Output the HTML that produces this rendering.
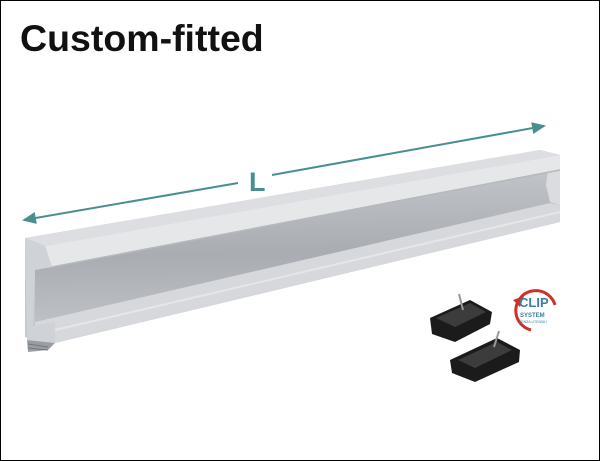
<!DOCTYPE html>
<html><head><style>
html,body{margin:0;padding:0;background:#fff;}
#c{position:relative;width:598px;height:459px;border:1px solid #000;overflow:hidden;background:#fff;}
h1{position:absolute;left:19px;top:16px;margin:0;font:bold 37.5px "Liberation Sans",sans-serif;color:#111;}
svg{position:absolute;left:0;top:0;}
</style></head><body><div id="c">
<h1>Custom-fitted</h1>
<svg width="598" height="459" viewBox="1 1 598 459">
<defs>
<linearGradient id="ch" x1="0" y1="0" x2="0.05" y2="1">
<stop offset="0" stop-color="#c3c6ca"/><stop offset="0.55" stop-color="#a9adb2"/><stop offset="1" stop-color="#bfc2c6"/>
</linearGradient>
<marker id="ah" markerWidth="8" markerHeight="8" refX="6" refY="4" orient="auto"><path d="M0,1 L7,4 L0,7 Z" fill="#4a8f8f"/></marker>
</defs>
<line x1="238" y1="183" x2="24" y2="220" stroke="#4a8f8f" stroke-width="2" marker-end="url(#ah)"/>
<line x1="272" y1="175" x2="544" y2="126" stroke="#4a8f8f" stroke-width="2" marker-end="url(#ah)"/>
<text x="249" y="191" font-family="Liberation Sans,sans-serif" font-weight="bold" font-size="27" fill="#4a8f8f">L</text>
<polygon points="25,238 540,150 560,155 560,222 55,343 25,337" fill="#c5c8cc"/>
<polygon points="35,268 560,170 560,210 35,328" fill="url(#ch)"/>
<polygon points="548,170 560,168 560,205 550,202 546,185" fill="#dadcdf"/>
<polygon points="35,322 550,203 560,205 560,222 55,343 35,338" fill="#d6d8db"/>
<line x1="55" y1="330" x2="560" y2="212" stroke="#e4e6e8" stroke-width="2"/>
<polygon points="25,238 540,150 560,155 45,246" fill="#dcdee1"/>
<polygon points="45,246 560,155 560,170 52,267" fill="#e5e7e9"/>
<line x1="52" y1="267" x2="560" y2="170" stroke="#b5b8bc" stroke-width="1.5"/>
<polygon points="25,238 45,246 52,267 35,270 33,326 55,322 55,343 27,340" fill="#cfd2d6"/>
<polygon points="27,340 55,343 48,350 28,352" fill="#9a9ea3"/>
<path d="M28,344 l20,3 M28,348 l20,2" stroke="#777" stroke-width="1"/>
<g fill="#1b1b1b">
<polygon points="430,318 470,300 492,312 490,324 455,342 432,334"/>
<polygon points="450,360 497,338 520,350 519,362 475,382 452,373"/>
</g>
<g fill="#3c3c3c">
<polygon points="436,318 470,303 486,312 455,327"/>
<polygon points="458,360 497,342 512,350 475,368"/>
</g>
<g stroke="#999" stroke-width="2" fill="none">
<line x1="463" y1="310" x2="459" y2="294"/><line x1="494" y1="347" x2="499" y2="331"/>
</g>
<path d="M555,305 A20,20 0 1,0 531,330" stroke="#d0302a" stroke-width="3" fill="none"/>
<polygon points="513,300 524,296 520,307" fill="#d0302a"/>
<text x="519" y="307" font-family="Liberation Sans,sans-serif" font-weight="bold" font-size="13" fill="#3b7ea3">CLIP</text>
<text x="520" y="317" font-family="Liberation Sans,sans-serif" font-weight="bold" font-size="6" fill="#3b7ea3">SYSTEM</text>
<text x="519" y="323" font-family="Liberation Sans,sans-serif" font-size="3.5" fill="#3b7ea3">SENZA UTENSILI</text>
</svg>
</div></body></html>
